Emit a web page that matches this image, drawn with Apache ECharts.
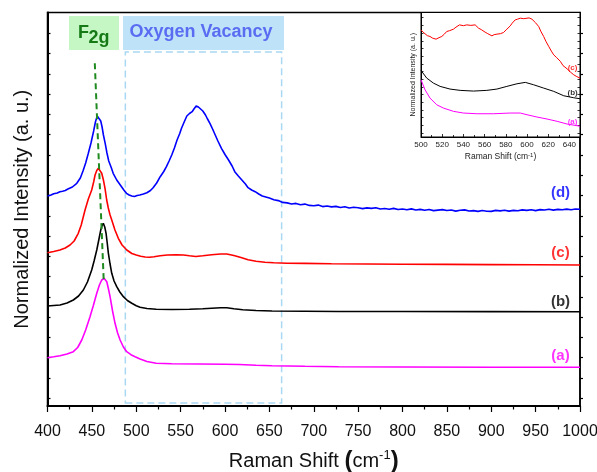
<!DOCTYPE html>
<html><head><meta charset="utf-8">
<script src="https://cdn.jsdelivr.net/npm/echarts@6/dist/echarts.min.js"></script>
<style>html,body{margin:0;padding:0;background:#fff}#c{width:597px;height:472px}</style>
</head><body><div id="c"></div>
<script>
const FONT = 'Liberation Sans, Arial, sans-serif';

// Main spectra: [Raman shift (cm-1), stacked normalized intensity (a.u.)]
const curveA = [[400,48.3],[407,49.2],[414.1,50.3],[422,52],[429.1,54.3],[434,58.5],[438.6,66],[443,76],[447.9,89.3],[451.5,100],[455.5,112.7],[458.5,121],[461.1,126],[463.7,127.7],[466.8,124.3],[468.7,117],[470.5,109.3],[473.3,95],[476.1,82.7],[479,73],[481.8,66],[485.5,59],[489.3,54.3],[494,51.3],[498.7,49.3],[504.3,47],[512,44.5],[522.5,42.7],[540,42.2],[570,42],[600,41.8],[616,41.5],[635,40.8],[653,40.3],[690,39.7],[728,39.3],[800,39],[900,38.8],[1000,38.7]];
const curveB = [[400,100],[407,100.5],[414.1,101],[422,103],[429.1,106],[435,110],[440.4,116],[445,124],[449.8,136],[452.5,145],[455.5,156],[458,167],[460,176],[461.5,180.5],[462.9,182.7],[464.5,179],[466,172.7],[467.3,163],[468.6,152.7],[470.5,142],[472.4,132.7],[475,125],[478,119.3],[481.5,114],[485.5,109.3],[490,105.5],[495,102.7],[500,100.3],[504.3,98.7],[512,97.5],[522.5,96.7],[540,96.5],[560,96.7],[575,97.2],[585,97.8],[595,98.3],[602,98.2],[610,97.3],[620,96.3],[635,95.5],[653,95],[690,94.8],[728,94.5],[800,94.5],[900,94.4],[1000,94.3]];
const curveC = [[400,153.3],[407,154.5],[414,156],[420,158],[425.4,161],[430,165],[434.7,172.7],[438,181],[442.3,196],[446,207],[449.8,216],[452,224],[453.6,231],[455.5,235.5],[457.3,237.7],[459,236.5],[461.1,232.7],[463,226],[464.8,217.7],[466.7,206],[468.5,198],[470.5,191],[472.4,186],[476,176],[479.8,167.7],[484,161],[489.3,156],[495,152.5],[500,151],[505,149.8],[510,149],[515,148.7],[520,149.3],[527,150.2],[535,151],[545,151.3],[553,151],[560,150.2],[567,149.5],[575,150.2],[585,151.3],[595,152],[602,152],[610,150.5],[618,148.5],[626,146.3],[635,144.8],[645,143.8],[655,143.3],[670,142.8],[690,142.6],[720,142.2],[760,142],[800,141.8],[850,141.6],[900,141.4],[950,141.2],[1000,141]];
const curveD = [[400,210],[404,211],[407,212.3],[411,213],[414,214.3],[417,214.8],[420,215.5],[423,217],[425,217.7],[428,219],[430,220],[433,222.7],[437,228],[440,235],[443,243],[446,252.7],[449,263],[452,275],[454,284],[456,290],[458,291],[460,285],[461.5,279],[463,271],[465,262.7],[467,253],[469,245],[472,238],[474,232.7],[478,226],[482,221],[486,216],[489,212.7],[492,211],[495,210],[498,209.5],[501,210.5],[504,211],[508,212],[512,213.3],[516,215.5],[519,218.3],[523,223],[527,229.3],[531,234.5],[534,239.3],[537,245],[540,251],[543,258],[546,266],[549,272.5],[551,277.7],[554,284],[557,290],[560,292.5],[563,294.3],[565,297],[567.5,300],[570,299],[572,297.7],[575,295],[578,291],[580,287.5],[583,282.7],[586,277],[589,271],[592,265],[596,257.7],[600,251.5],[604,246],[608,240],[611,234.3],[615,230],[619,226],[623,222],[626,218.3],[630,216],[634,214.3],[638,212],[642,210],[646,209],
  [650,207.9],[655,206.2],[660,205.4],[665,203.6],[670,203.1],[675,202.0],[680,202.6],[685,201.3],[690,201.9],[695,200.6],[700,200.3],[705,200.9],[710,199.4],[715,200.0],[720,199.1],[725,199.6],[730,198.5],[735,199.2],[740,198.0],[745,198.8],[750,198.3],[755,197.4],[760,198.1],[765,197.6],[770,198.2],[775,197.0],[780,197.5],[785,196.8],[790,197.6],[795,196.5],[800,197.0],[805,196.3],[810,197.1],[815,196.0],[820,196.6],[825,195.7],[830,196.5],[835,195.4],[840,195.9],[845,196.4],[850,195.5],[855,196.0],[860,194.9],[865,195.7],[870,196.1],[875,195.0],[880,195.4],[885,194.6],[890,195.5],[895,194.8],[900,194.6],[905,195.6],[910,195.1],[915,195.7],[920,194.9],[925,195.6],[930,195.3],[935,196.1],[940,195.6],[945,196.2],[950,195.4],[955,196.4],[960,196.0],[965,196.7],[970,195.9],[975,196.6],[980,196.2],[985,196.9],[990,196.3],[995,197.0],[1000,196.8]];

// Inset spectra (500-650 cm-1)
const insetA = [[500,57.3],[503.8,47.3],[508.5,39],[514.8,32.3],[521.1,29],[530.6,25.7],[540,24],[552.7,23.3],[568.5,23.3],[584.2,24],[593.7,24],[600,22.3],[609.5,20],[618.9,18],[628.4,15.7],[637.8,13],[647.3,11.3],[650,10.7]];
const insetB = [[500,66.7],[505.4,59],[511.7,54],[518,50.7],[527.4,48],[536.9,46.7],[549.5,46],[562.1,46.7],[571.6,48],[581,50.7],[590.5,53.3],[598.4,54.7],[606.3,52.3],[615.7,49],[625.2,45.7],[634.7,41.3],[644.1,39.3],[650,38.3]];
const insetC = [[500,107.3],[502,105],[503.8,104],[506,101.5],[508.5,100.7],[511,99],[514.2,98],[517,99.5],[519.6,100.7],[522,103],[524.3,105.7],[527,106.5],[530.6,108],[533,110],[536.3,112.3],[540,111.5],[543.2,112.3],[547,111.8],[551.1,112.3],[554.3,109],[557,107.5],[560.5,105],[563,103.5],[566.9,101.3],[569,102.5],[571.6,103],[575,103.5],[577.9,104.7],[581,108],[584.2,111.3],[586,114],[588.9,117.3],[591,118],[593.7,119],[597,118.5],[600,119],[602,119.3],[604.7,118],[608,114.5],[611,110.7],[613,106],[615.7,100.7],[618,95.5],[620.5,90.7],[623,86],[625.2,82.3],[628,79.5],[631.5,75.7],[634,71.5],[637.8,68.3],[641,65],[644.1,62.3],[647,60.5],[650,59]];

const seriesNames = ['(a)','(b)','(c)','(d)'];
const seriesColors = ['#ff00ff','#000000','#ff0000','#0000ff'];
const mainLabelX = [978,978,978,978];
const mainLabelY = [50.3,104.3,153.3,213];
const insetLabelX = [643,643,643];
const insetLabelY = [15,44.7,69.7];

// annotations (data coordinates)
const vacancyX = [487.7,663.8];
const vacancyY = [3,354];
const f2gLine = [[453.3,342.7],[463.4,124.3]];

const mainYTicks = Array.from({length:19},(_,k)=>7.8+20.27*k);
const insetYTicks = Array.from({length:16},(_,k)=>4+7.7*k);

const chart = echarts.init(document.getElementById('c'), null, {renderer:'canvas'});

const lineS = (data, color, xi, yi, w, z) => ({
  type:'line', data, xAxisIndex:xi, yAxisIndex:yi, showSymbol:false, symbol:'none',
  lineStyle:{color, width:w}, itemStyle:{color}, silent:true, z
});

const mainCurves = [curveA, curveB, curveC, curveD];
const insetCurves = [insetA, insetB, insetC];

const series = [];
mainCurves.forEach((d,i)=>series.push(lineS(d, seriesColors[i], 0, 0, 1.6, 3)));
series[0].markArea = {silent:true, itemStyle:{color:'rgba(0,0,0,0)', borderColor:'#a9d8f2', borderWidth:1.5, borderType:[7,4]},
  data:[[{coord:[vacancyX[0], vacancyY[0]]},{coord:[vacancyX[1], vacancyY[1]]}]]};
series[0].markLine = {silent:true, symbol:'none', label:{show:false}, lineStyle:{color:'#1f8a1f', width:2, type:[6,4]},
  data:[[{coord:f2gLine[0]},{coord:f2gLine[1]}]]};
series.push({type:'scatter', xAxisIndex:0, yAxisIndex:0, symbolSize:0, silent:true,
  data: seriesNames.map((n,i)=>({name:n, value:[mainLabelX[i], mainLabelY[i]], label:{color:seriesColors[i]}})),
  label:{show:true, position:'inside', formatter:p=>p.name, fontFamily:FONT, fontSize:15, fontWeight:'bold'}, z:5});
insetCurves.forEach((d,i)=>series.push(lineS(d, seriesColors[i], 1, 2, 1, 8)));
series.push({type:'scatter', xAxisIndex:1, yAxisIndex:2, symbolSize:0, silent:true,
  data: seriesNames.slice(0,3).map((n,i)=>({name:n, value:[insetLabelX[i], insetLabelY[i]], label:{color:seriesColors[i]}})),
  label:{show:true, position:'inside', formatter:p=>p.name, fontFamily:FONT, fontSize:8, fontWeight:'bold'}, z:9});

const option = {
  animation:false,
  backgroundColor:'#fff',
  grid:[
    {left:47.5, right:17, top:12.5, bottom:66, show:true, borderColor:'#000', borderWidth:1.5, backgroundColor:'transparent', outerBoundsMode:'none', containLabel:false},
    {left:421, right:17, top:12.5, height:124.5, show:true, borderColor:'#000', borderWidth:1, backgroundColor:'#fff', z:4, outerBoundsMode:'none', containLabel:false}
  ],
  xAxis:[
    {type:'value', gridIndex:0, min:400, max:1000, interval:50,
     axisLine:{lineStyle:{color:'#000', width:2}},
     axisTick:{show:true, length:6, lineStyle:{color:'#000', width:1.2}},
     minorTick:{show:true, splitNumber:2, length:3.5, lineStyle:{color:'#000', width:1.2}},
     splitLine:{show:false},
     axisLabel:{fontFamily:FONT, fontSize:16, color:'#111', margin:18, formatter:v=>String(v)},
     name:'{a|Raman Shift }{p|(}{a|cm}{s|-1}{p|)}', nameLocation:'middle', nameGap:43,
     nameTextStyle:{rich:{a:{fontFamily:FONT, fontSize:20, color:'#111'}, p:{fontFamily:FONT, fontSize:24, fontWeight:'bold', color:'#111'}, s:{fontFamily:FONT, fontSize:13, color:'#111', verticalAlign:'top'}}}
    },
    {type:'value', gridIndex:1, min:500, max:650, interval:20, z:6,
     axisLine:{lineStyle:{color:'#000', width:1}},
     axisTick:{show:true, inside:true, length:3, lineStyle:{color:'#000', width:0.8}},
     minorTick:{show:true, splitNumber:2, length:2, lineStyle:{color:'#000', width:0.8}},
     splitLine:{show:false},
     axisLabel:{fontFamily:FONT, fontSize:8, color:'#222', margin:4, showMaxLabel:false, formatter:v=>String(v)},
     name:'{a|Raman Shift (cm}{s|-1}{a|)}', nameLocation:'middle', nameGap:15,
     nameTextStyle:{rich:{a:{fontFamily:FONT, fontSize:8.5, color:'#222'}, s:{fontFamily:FONT, fontSize:6, color:'#222', verticalAlign:'top'}}}
    }
  ],
  yAxis:[
    {type:'value', gridIndex:0, min:0, max:393.5, position:'left',
     axisLine:{show:true, lineStyle:{color:'#000', width:2}},
     axisTick:{show:true, inside:true, length:3, customValues:mainYTicks, lineStyle:{color:'#000', width:1.2}},
     axisLabel:{show:false}, splitLine:{show:false},
     name:'Normalized Intensity (a. u.)', nameLocation:'middle', nameGap:15,
     nameTextStyle:{fontFamily:FONT, fontSize:20, color:'#111'}
    },
    {type:'value', gridIndex:0, min:0, max:393.5, position:'right',
     axisLine:{show:true, lineStyle:{color:'#000', width:1.5}},
     axisTick:{show:true, inside:false, length:3, customValues:mainYTicks, lineStyle:{color:'#000', width:1.2}},
     axisLabel:{show:false}, splitLine:{show:false}
    },
    {type:'value', gridIndex:1, min:0, max:124.7, position:'left', z:6,
     axisLine:{show:true, lineStyle:{color:'#000', width:1}},
     axisTick:{show:true, inside:true, length:2.5, customValues:insetYTicks, lineStyle:{color:'#000', width:0.8}},
     axisLabel:{show:false}, splitLine:{show:false},
     name:'Normalized Intensity (a. u.)', nameLocation:'middle', nameGap:4,
     nameTextStyle:{fontFamily:FONT, fontSize:7, color:'#222'}
    },
    {type:'value', gridIndex:1, min:0, max:124.7, position:'right', z:6,
     axisLine:{show:true, lineStyle:{color:'#000', width:1}},
     axisTick:{show:true, inside:true, length:2.5, customValues:insetYTicks, lineStyle:{color:'#000', width:0.8}},
     axisLabel:{show:false}, splitLine:{show:false}
    }
  ],
  graphic:[
    {type:'rect', shape:{x:69, y:16, width:50, height:34}, style:{fill:'#c4f7c4'}, z:10},
    {type:'text', style:{text:'F', x:78, y:24, font:'bold 18px '+FONT, fill:'#157a15', textAlign:'left', textVerticalAlign:'top'}, z:11},
    {type:'text', style:{text:'2g', x:88.5, y:29.5, font:'bold 18px '+FONT, fill:'#157a15', textAlign:'left', textVerticalAlign:'top'}, z:11},
    {type:'rect', shape:{x:123, y:16, width:161, height:34}, style:{fill:'#bee3f8'}, z:10},
    {type:'text', style:{text:'Oxygen Vacancy', x:201, y:32, font:'bold 18px '+FONT, fill:'#5a6cf2', textAlign:'center', textVerticalAlign:'middle'}, z:11}
  ],
  series
};
chart.setOption(option);
</script></body></html>
